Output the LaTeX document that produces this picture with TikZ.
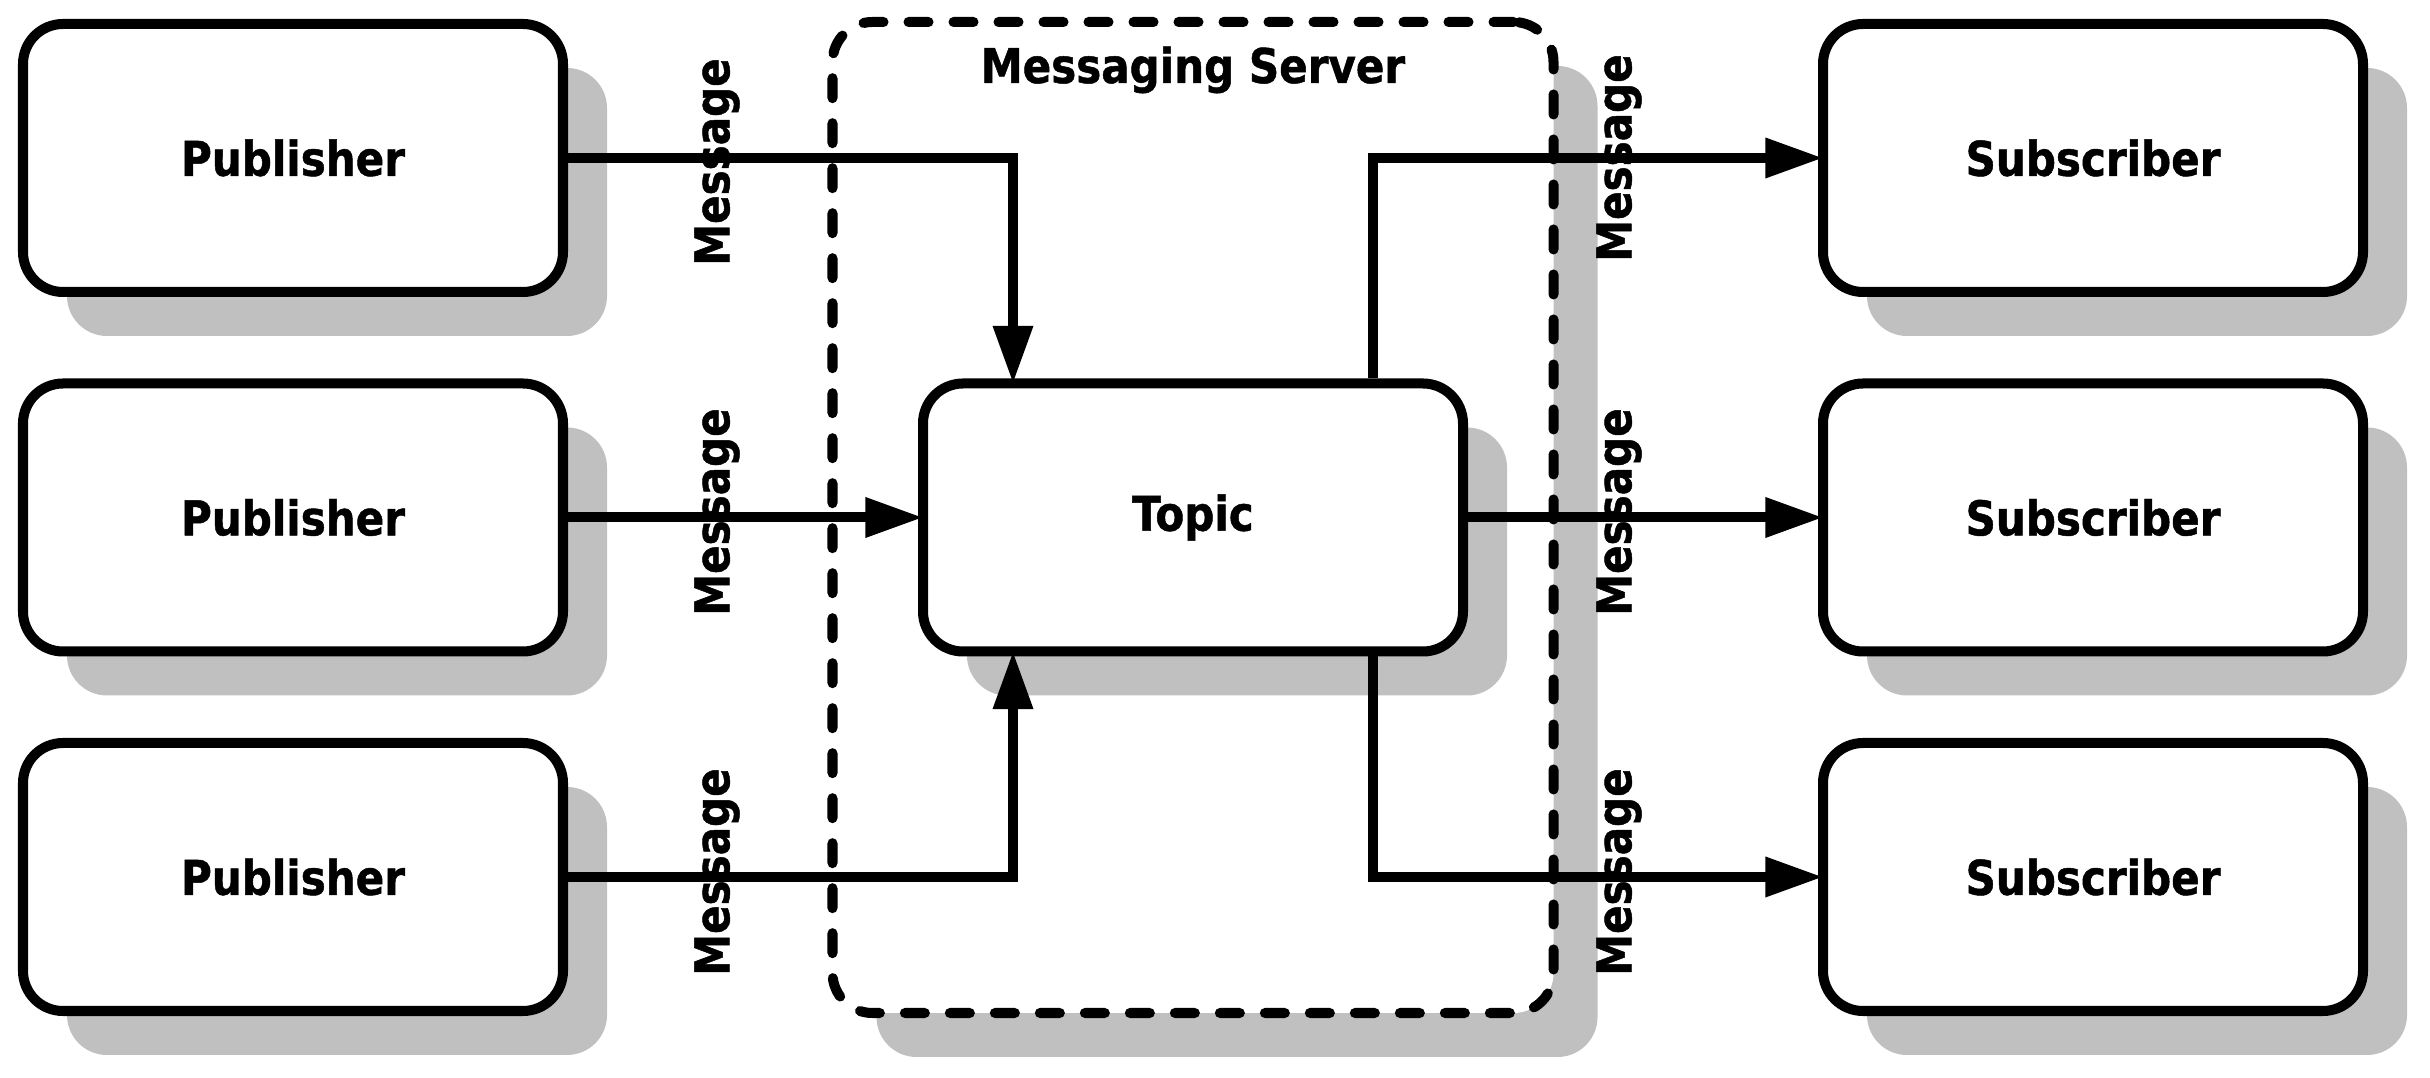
\documentclass[tikz,border=0pt]{standalone}
\usepackage{fontspec}
\setmainfont{DejaVu Sans}[FakeStretch=0.88, BoldFeatures={FakeBold=1}]
\usetikzlibrary{arrows.meta, positioning, shadows}
\definecolor{shadowgray}{RGB}{192,192,192}

\begin{document}
\begin{tikzpicture}[%
    >={Triangle[length=0.58cm, width=0.38cm]},
    shorten >=-1.5pt,
    node distance=3.595cm,
    on grid,
    line width=2.85pt,
    font=\fontsize{13.6pt}{16pt}\selectfont\bfseries,
    box/.style={draw, fill=white, rounded corners=0.4cm,
      minimum width=5.4cm, minimum height=2.68cm, inner sep=0pt,
      drop shadow={shadow xshift=0.44cm, shadow yshift=-0.44cm,
        fill=shadowgray, opacity=1}},
    serverbox/.style={box, minimum width=7.21cm, minimum height=9.91cm,
      dash pattern=on 0.2cm off 0.25cm, line cap=round},
    msg/.style={rotate=90, inner sep=0pt}
  ]
  \useasboundingbox (0,0) rectangle (24.3,-10.78);

  \node[box] (pub1) at (2.93,-1.58) {Publisher};
  \node[box, below=of pub1] (pub2) {Publisher};
  \node[box, below=of pub2] (pub3) {Publisher};

  \node[serverbox, right=9 of pub2] (server) {};
  \node[anchor=base] (title) at ([yshift=-0.66cm]server.north) {Messaging Server};
  \node[box] (topic) at (server) {Topic};

  \node[box, right=9 of topic] (sub2) {Subscriber};
  \node[box, above=of sub2] (sub1) {Subscriber};
  \node[box, below=of sub2] (sub3) {Subscriber};

  \coordinate (in1) at ([xshift=-1.8cm]topic.north);
  \coordinate (in3) at ([xshift=-1.8cm]topic.south);
  \coordinate (out1) at ([xshift=1.8cm]topic.north);
  \coordinate (out3) at ([xshift=1.8cm]topic.south);

  \draw[->] (pub1) -| (in1);
  \draw[->] (pub2) -- (topic);
  \draw[->] (pub3) -| (in3);
  \draw[->] (out1) |- (sub1);
  \draw[->] (topic) -- (sub2);
  \draw[->] (out3) |- (sub3);

  \node[msg] (msg1) at (7.17,-1.62) {Message};
  \node[msg] (msg2) at (7.17,-5.12) {Message};
  \node[msg] (msg3) at (7.17,-8.72) {Message};
  \node[msg] (msg4) at (16.19,-1.58) {Message};
  \node[msg] (msg5) at (16.19,-5.12) {Message};
  \node[msg] (msg6) at (16.19,-8.72) {Message};
\end{tikzpicture}
\end{document}
